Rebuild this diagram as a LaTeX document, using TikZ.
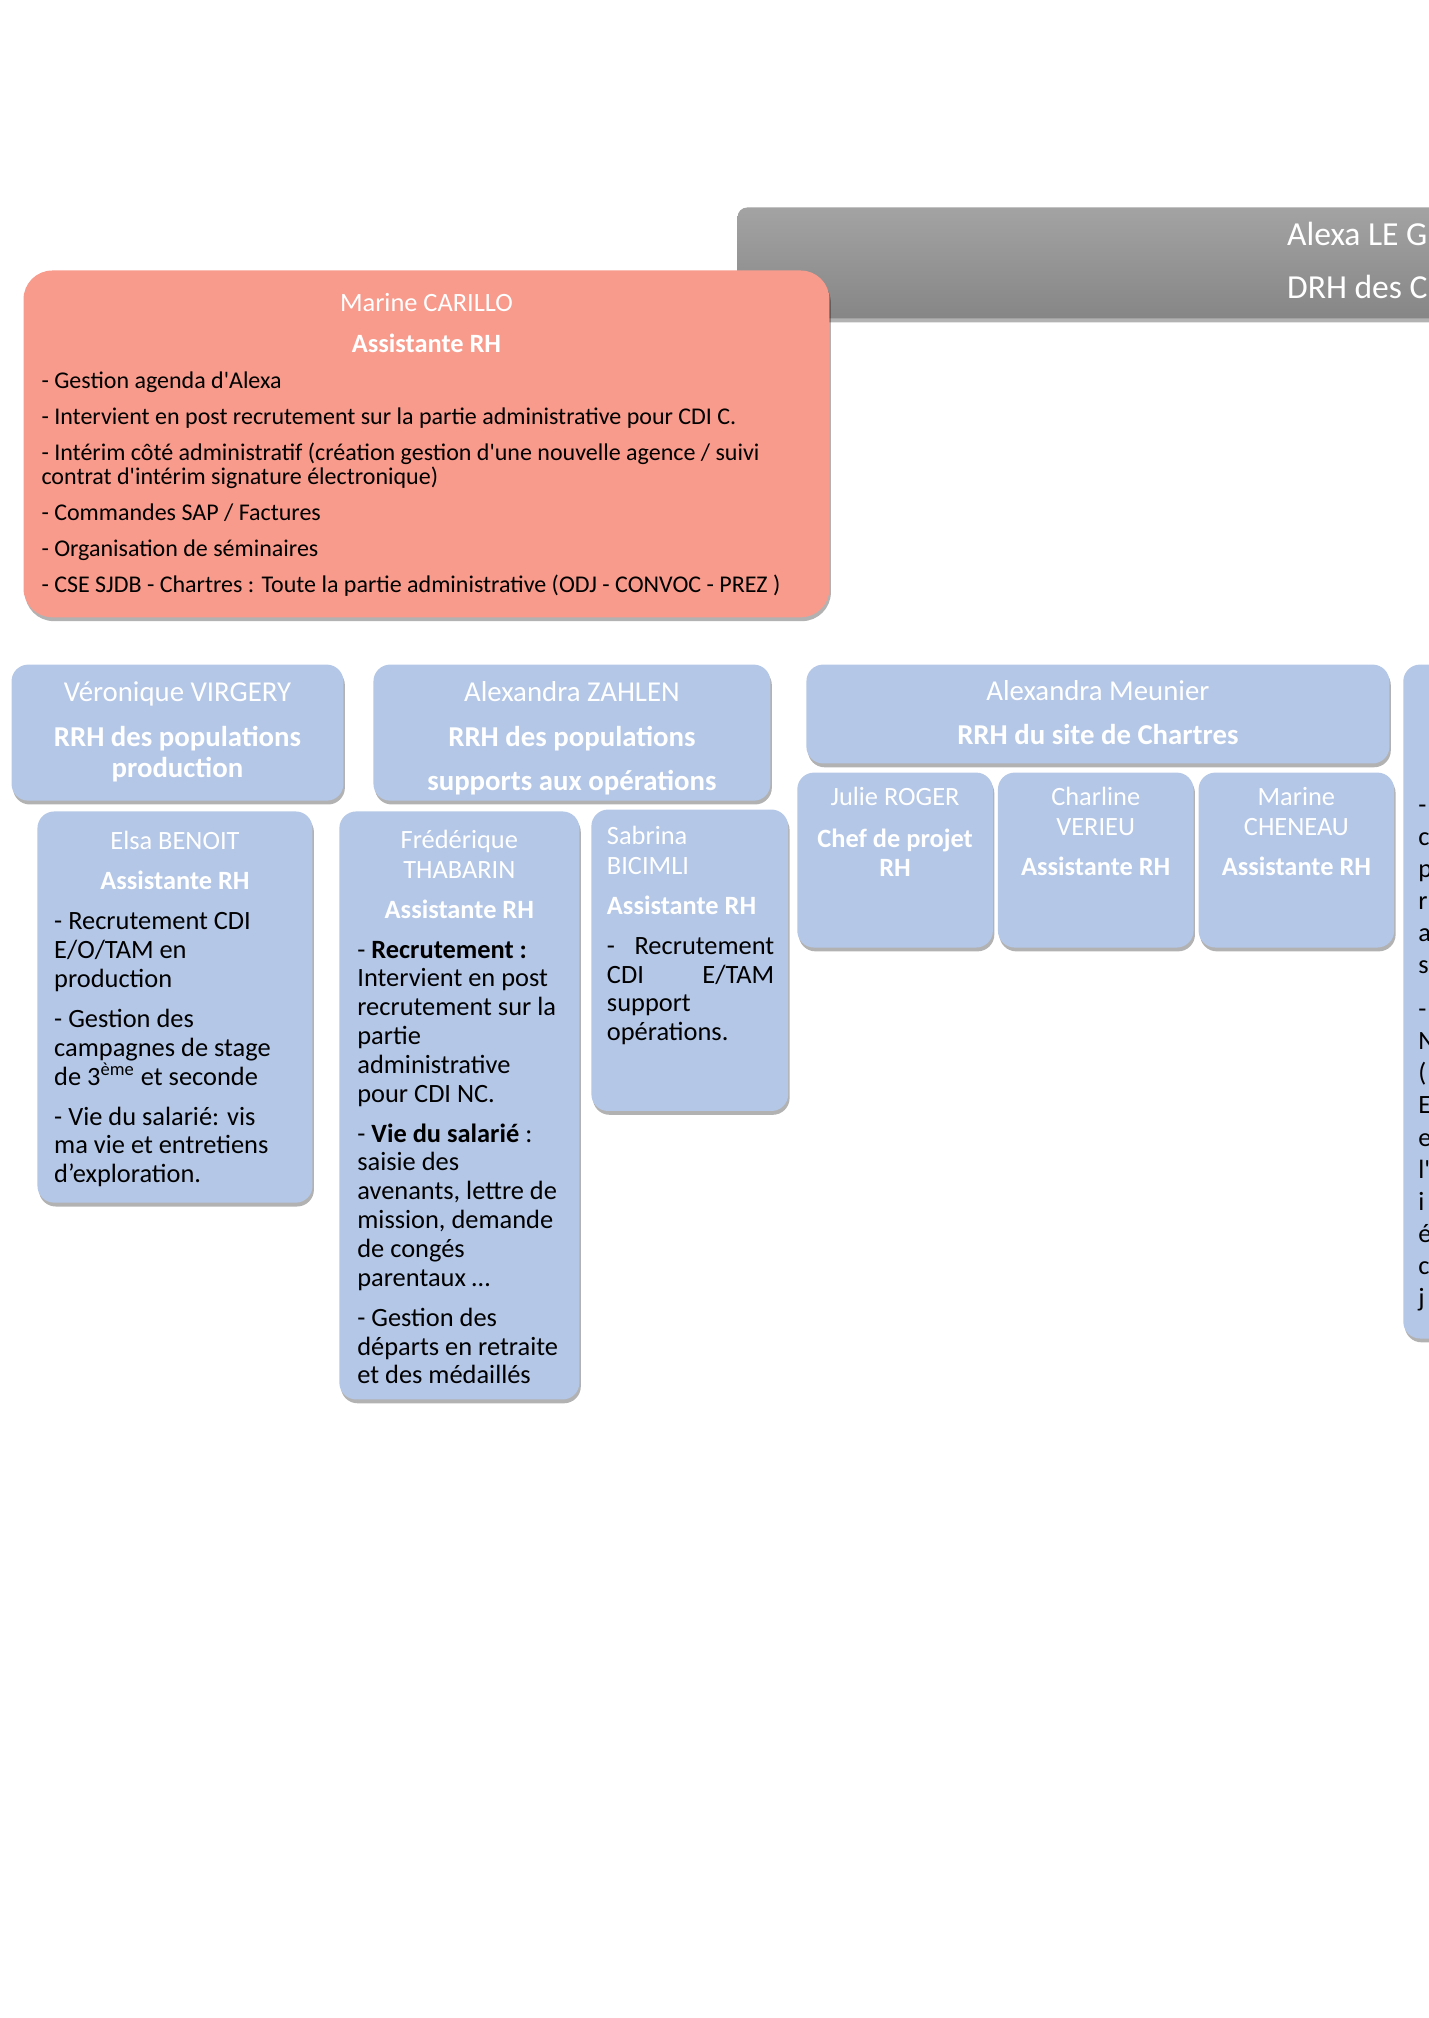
\documentclass[tikz,border=0pt]{standalone}
\usepackage{fontspec}
\setmainfont{Carlito}
\usepackage{tikz}
\usetikzlibrary{positioning,shadows}
\definecolor{rhblue}{HTML}{B4C7E7}
\definecolor{rhsalmon}{HTML}{F89B8C}
\definecolor{headtop}{HTML}{A3A3A3}
\definecolor{headbot}{HTML}{868686}
\tikzset{
    card/.style={
           rectangle,
           rounded corners=7pt,
           fill=rhblue,
           inner sep=0pt,
           anchor=north west,
           font=\fontsize{11}{12}\selectfont,
           drop shadow={shadow xshift=0.6pt, shadow yshift=-1.6pt,
                        opacity=0.3, fill=black},
           },
    memo/.style={card, fill=rhsalmon, rounded corners=12pt,
           font=\fontsize{10}{10.3}\selectfont},
    headbar/.style={
           rectangle,
           rounded corners=4pt,
           top color=headtop, bottom color=headbot,
           inner sep=0pt,
           anchor=north west,
           font=\fontsize{14}{22}\selectfont,
           drop shadow={shadow xshift=0.6pt, shadow yshift=-1.6pt,
                        opacity=0.3, fill=black},
           },
}
% inside of a box: width, height, text
\newcommand{\cardin}[3]{\parbox[t][#2][t]{#1}{\prevdepth=0pt #3}}
\newcommand{\who}[2][\centering]{{#1\color{white}\fontsize{11}{12.3}\selectfont #2\par}}
\newcommand{\role}[2][\centering]{{#1\color{white}\bfseries\fontsize{11}{12.3}\selectfont #2\par}}
\newcommand{\chief}[1]{{\centering\color{white}\fontsize{12}{12.8}\selectfont #1\par}}
\newcommand{\chiefrole}[1]{{\centering\color{white}\bfseries\fontsize{12}{12.8}\selectfont #1\par}}
\newcommand{\tasks}[2][7pt]{{\raggedright\leftskip=#1\relax\parskip=4.7pt\relax #2\par}}

\begin{document}
\begin{tikzpicture}[x=1pt, y=-1pt]
 \useasboundingbox (0,0) rectangle (595,840.83);

 % direction
 \node[headbar] (drh) at (307.1,86.25)
 {\cardin{420pt}{46.25pt}{\vspace{-6.25pt}\leftskip=229pt\relax\color{white}
  Alexa LE G\\DRH des C\par}};

 \node[memo] (carillo) at (9.6,112.5)
 {\cardin{335.8pt}{144.5pt}{\vspace{4.6pt}
  \who{Marine CARILLO}\vspace{4.8pt}
  \role{Assistante RH}
  \tasks[7.5pt]{- Gestion agenda d\textquotesingle Alexa\par
  - Intervient en post recrutement sur la partie administrative pour CDI C.\par
  - Intérim côté administratif (création gestion d\textquotesingle une nouvelle agence / suivi\\
  contrat d\textquotesingle intérim signature électronique)\par
  - Commandes SAP / Factures\par
  - Organisation de séminaires\par
  - CSE SJDB - Chartres : Toute la partie administrative (ODJ - CONVOC - PREZ )}}};

 % RRH
 \node[card] (virgery) at (4.6,276.7)
 {\cardin{138.3pt}{56.7pt}{\vspace{2.7pt}
  \chief{Véronique VIRGERY}\vspace{6pt}
  \chiefrole{RRH des populations\\production}}};

 \node[card, right=12.1pt of virgery.north east, anchor=north west] (zahlen)
 {\cardin{165.4pt}{56.7pt}{\vspace{2.7pt}
  \chief{Alexandra ZAHLEN}\vspace{6pt}
  \chiefrole{RRH des populations}\vspace{5.4pt}
  \chiefrole{supports aux opérations}}};

 \node[card, right=14.6pt of zahlen.north east, anchor=north west] (meunier)
 {\cardin{242.9pt}{41.2pt}{\vspace{2.2pt}
  \chief{Alexandra Meunier}\vspace{5.4pt}
  \chiefrole{RRH du site de Chartres}}};

 \node[card, right=5.4pt of meunier.north east, anchor=north west] (nextrrh)
 {\cardin{100pt}{280.8pt}{\vspace{43.8pt}\fontsize{11}{13.4}\selectfont
  \tasks[6.3pt]{-\\c\\p\\r\\a\\s\par
  -\\N\\(\\E\\e\\l\textquotesingle\\i\\é\\c\\j}}};

 % assistantes
 \node[card] (benoit) at (15.4,337.9)
 {\cardin{114.6pt}{163pt}{\vspace{3.6pt}
  \who{Elsa BENOIT}\vspace{4.4pt}
  \role{Assistante RH}
  \tasks{- Recrutement CDI\\E/O/TAM en\\production\par
  - Gestion des\\campagnes de stage\\de 3\textsuperscript{ème} et seconde\par
  - Vie du salarié: vis\\ma vie et entretiens\\d’exploration.}}};

 \node[card, right=10.8pt of benoit.north east, anchor=north west] (thabarin)
 {\cardin{100pt}{245pt}{\vspace{3.2pt}
  \who{Frédérique\\THABARIN}\vspace{4.3pt}
  \role{Assistante RH}
  \tasks[7.5pt]{- \textbf{Recrutement :}\\Intervient en post\\recrutement sur la\\partie\\administrative\\pour CDI NC.\par
  - \textbf{Vie du salarié} :\\saisie des\\avenants, lettre de\\mission, demande\\de congés\\parentaux …\par
  - Gestion des\\départs en retraite\\et des médaillés}}};

 \node[card, right=4.6pt of thabarin.north east, anchor=north west, yshift=0.8pt] (bicimli)
 {\cardin{82pt}{125.6pt}{\vspace{2.4pt}
  \who[\raggedright\leftskip=6.5pt\relax]{Sabrina\\BICIMLI}\vspace{4.3pt}
  \role[\raggedright\leftskip=6.5pt\relax]{Assistante RH}
  {\leftskip=6.5pt\relax\rightskip=5.8pt\relax\parskip=4.7pt\relax
  -\hfill Recrutement\\CDI\hfill E/TAM\\support\\opérations.\par}}};

 \node[card] (roger) at (332,321.7)
 {\cardin{81.5pt}{72.9pt}{\vspace{1.6pt}
  \who{Julie ROGER}\vspace{4.9pt}
  \role{Chef de projet\\RH}}};

 \node[card, right=1.7pt of roger] (verieu)
 {\cardin{81.5pt}{72.9pt}{\vspace{1.6pt}
  \who{Charline\\VERIEU}\vspace{4.4pt}
  \role{Assistante RH}}};

 \node[card, right=1.7pt of verieu] (cheneau)
 {\cardin{81.5pt}{72.9pt}{\vspace{1.6pt}
  \who{Marine\\CHENEAU}\vspace{4.4pt}
  \role{Assistante RH}}};

\end{tikzpicture}
\end{document}
